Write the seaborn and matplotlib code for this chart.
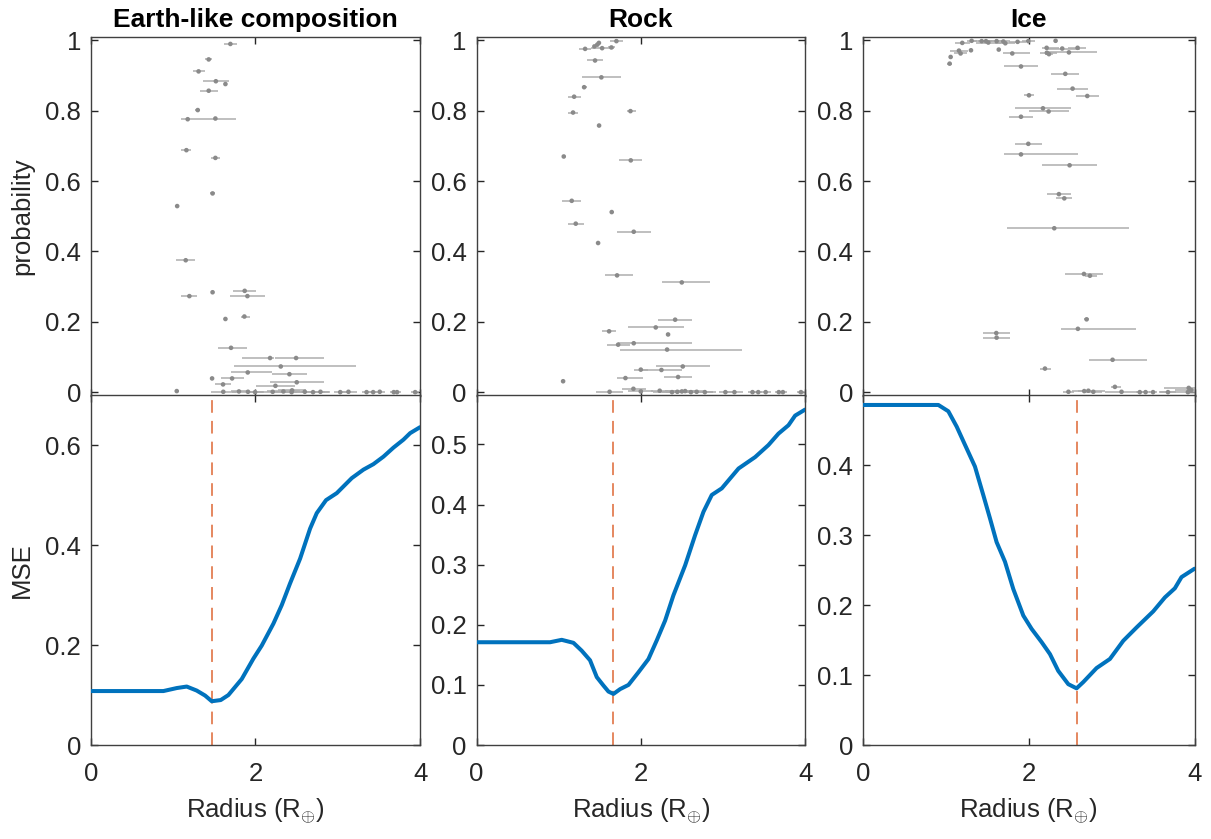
import numpy as np
import pandas as pd
import matplotlib
matplotlib.use("Agg")
import matplotlib.pyplot as plt
from matplotlib.ticker import FuncFormatter
import seaborn as sns

# ---------------- data ----------------
titles = ["Earth-like composition", "Rock", "Ice"]

# Earth-like: radius, probability, x-error low/high
earth_r = [1.696, 1.433, 1.31, 1.52, 1.636, 1.433, 1.30, 1.178, 1.514, 1.162, 1.514, 1.48, 1.05,
           1.154, 1.198, 1.48, 1.87, 1.903, 1.866, 1.636, 1.704, 2.178, 2.494, 2.308, 1.907, 2.413,
           1.474, 1.717, 2.502, 1.607, 2.243, 1.045, 2.445,
           1.61, 1.80, 1.91, 1.996, 2.21, 2.34, 2.44, 2.60, 2.70, 2.79, 3.03, 3.13, 3.35, 3.43,
           3.51, 3.68, 3.72, 3.94]
earth_p = [0.990, 0.946, 0.912, 0.884, 0.876, 0.857, 0.802, 0.776, 0.778, 0.688, 0.666, 0.565, 0.529,
           0.375, 0.273, 0.284, 0.288, 0.273, 0.215, 0.208, 0.126, 0.097, 0.097, 0.073, 0.056, 0.051,
           0.039, 0.039, 0.028, 0.022, 0.018, 0.003, 0.005,
           0.001, 0.002, 0.001, 0.0, 0.001, 0.002, 0.0, 0.001, 0.0, 0.001, 0.0, 0.001, 0.0, 0.0,
           0.001, 0.0, 0.0, 0.0]
earth_lo = [0.08, 0.04, 0.073, 0.16, 0.01, 0.10, 0.03, 0.085, 0.25, 0.07, 0.057, 0.03, 0.0,
            0.117, 0.097, 0.01, 0.14, 0.21, 0.04, 0.0, 0.155, 0.34, 0.25, 0.567, 0.2, 0.21,
            0.02, 0.14, 0.33, 0.095, 0.24, 0.02, 0.17,
            0.15, 0.1, 0.2, 0.1, 0.3, 0.2, 0.25, 0.3, 0.15, 0.1, 0.08, 0.1, 0.05, 0.05,
            0.06, 0.05, 0.05, 0.05]
earth_hi = [0.08, 0.04, 0.073, 0.16, 0.01, 0.11, 0.03, 0.085, 0.245, 0.05, 0.057, 0.03, 0.0,
            0.117, 0.097, 0.01, 0.14, 0.21, 0.07, 0.0, 0.19, 0.05, 0.34, 0.91, 0.3, 0.21,
            0.02, 0.14, 0.33, 0.095, 0.24, 0.02, 0.17,
            0.15, 0.1, 0.2, 0.1, 0.3, 0.2, 0.25, 0.3, 0.15, 0.1, 0.08, 0.1, 0.05, 0.05,
            0.06, 0.05, 0.05, 0.05]

rock_r = [1.703, 1.49, 1.47, 1.435, 1.322, 1.529, 1.642, 1.443, 1.52, 1.31, 1.188, 1.175, 1.874,
          1.492, 1.062, 1.878, 1.159, 1.646, 1.208, 1.914, 1.48, 1.711, 2.499, 2.418, 2.182, 1.614,
          2.332, 1.914, 1.724, 2.32, 2.511, 2.0, 2.251, 1.813, 2.454, 1.054, 1.91,
          1.62, 2.0, 2.23, 2.38, 2.445, 2.50, 2.54, 2.61, 2.68, 2.78, 3.03, 3.14, 3.36, 3.43,
          3.52, 3.68, 3.73, 3.95]
rock_p = [0.998, 0.993, 0.988, 0.983, 0.976, 0.978, 0.980, 0.943, 0.895, 0.867, 0.840, 0.795, 0.799,
          0.758, 0.670, 0.659, 0.544, 0.512, 0.479, 0.456, 0.424, 0.332, 0.312, 0.206, 0.184, 0.173,
          0.164, 0.139, 0.135, 0.121, 0.073, 0.064, 0.063, 0.040, 0.043, 0.031, 0.0095,
          0.001, 0.002, 0.004, 0.0, 0.001, 0.002, 0.003, 0.0, 0.001, 0.0, 0.0, 0.0, 0.0, 0.0,
          0.0, 0.0, 0.0, 0.0]
rock_lo = [0.077, 0.01, 0.01, 0.01, 0.07, 0.14, 0.045, 0.10, 0.24, 0.03, 0.08, 0.06, 0.04,
           0.0, 0.0, 0.14, 0.118, 0.0, 0.097, 0.207, 0.0, 0.15, 0.24, 0.21, 0.34, 0.09,
           0.02, 0.187, 0.14, 0.57, 0.33, 0.083, 0.25, 0.10, 0.175, 0.0, 0.14,
           0.16, 0.15, 0.1, 0.12, 0.3, 0.2, 0.25, 0.3, 0.2, 0.1, 0.08, 0.1, 0.05, 0.05,
           0.06, 0.05, 0.05, 0.05]
rock_hi = [0.077, 0.01, 0.01, 0.01, 0.07, 0.14, 0.045, 0.10, 0.24, 0.03, 0.08, 0.06, 0.07,
           0.0, 0.0, 0.14, 0.118, 0.0, 0.097, 0.207, 0.0, 0.19, 0.34, 0.21, 0.34, 0.09,
           0.02, 0.707, 0.14, 0.91, 0.33, 0.083, 0.25, 0.21, 0.175, 0.0, 0.15,
           0.16, 0.15, 0.1, 0.12, 0.3, 0.2, 0.25, 0.3, 0.2, 0.1, 0.08, 0.1, 0.05, 0.05,
           0.06, 0.05, 0.05, 0.05]

ice_r = [1.20, 1.313, 1.434, 1.486, 1.514, 1.614, 1.695, 1.719, 1.867, 1.996, 2.325,
         1.16, 1.18, 1.305, 1.64, 1.803, 2.217, 2.405, 2.59, 2.22, 2.245, 2.486, 1.06, 1.048,
         1.908, 2.442, 2.53, 2.004, 2.707, 2.173, 2.241, 1.908, 1.996, 1.908, 2.494, 2.365,
         2.43, 2.309, 2.667, 2.739, 2.699, 2.594, 1.61, 1.614, 3.012, 2.197, 3.04,
         2.48, 2.67, 2.72, 2.78, 3.12, 3.34, 3.41, 3.50, 3.68, 3.92, 3.93, 3.96]
ice_p = [0.993, 0.999, 0.998, 0.998, 0.994, 0.998, 0.997, 0.992, 0.996, 0.998, 0.999,
         0.971, 0.963, 0.972, 0.974, 0.963, 0.979, 0.977, 0.979, 0.965, 0.961, 0.966, 0.953, 0.934,
         0.926, 0.905, 0.863, 0.844, 0.842, 0.807, 0.798, 0.783, 0.706, 0.676, 0.645, 0.563,
         0.551, 0.466, 0.336, 0.331, 0.207, 0.180, 0.168, 0.155, 0.092, 0.067, 0.015,
         0.001, 0.003, 0.004, 0.001, 0.001, 0.0, 0.0, 0.0, 0.0, 0.0, 0.012, 0.006]
ice_lo = [0.09, 0.06, 0.12, 0.1, 0.15, 0.1, 0.08, 0.12, 0.1, 0.08, 0.01,
          0.11, 0.08, 0.01, 0.0, 0.11, 0.05, 0.19, 0.11, 0.08, 0.05, 0.29, 0.0, 0.03,
          0.21, 0.17, 0.185, 0.06, 0.14, 0.34, 0.24, 0.15, 0.16, 0.21, 0.33, 0.14,
          0.094, 0.566, 0.23, 0.06, 0.03, 0.205, 0.16, 0.16, 0.29, 0.06, 0.05,
          0.07, 0.08, 0.2, 0.1, 0.2, 0.05, 0.05, 0.05, 0.1, 0.35, 0.3, 0.2]
ice_hi = [0.09, 0.06, 0.12, 0.1, 0.15, 0.1, 0.08, 0.12, 0.1, 0.08, 0.01,
          0.11, 0.08, 0.01, 0.0, 0.21, 0.15, 0.21, 0.10, 0.12, 0.05, 0.34, 0.0, 0.03,
          0.21, 0.17, 0.185, 0.06, 0.14, 0.34, 0.24, 0.15, 0.16, 0.69, 0.33, 0.14,
          0.094, 0.896, 0.23, 0.08, 0.03, 0.703, 0.16, 0.16, 0.41, 0.07, 0.07,
          0.07, 0.08, 0.2, 0.1, 0.2, 0.05, 0.05, 0.05, 0.1, 0.35, 0.3, 0.2]

# MSE curves
earth_curve_r = [0.0, 0.883, 1.045, 1.166, 1.287, 1.389, 1.47, 1.579, 1.672, 1.834, 1.976, 2.077,
                 2.219, 2.32, 2.42, 2.543, 2.664, 2.745, 2.858, 2.988, 3.17, 3.312, 3.433, 3.555,
                 3.676, 3.798, 3.879, 4.0]
earth_curve_mse = [0.108, 0.108, 0.114, 0.117, 0.109, 0.099, 0.0876, 0.090, 0.100, 0.132, 0.173,
                   0.199, 0.243, 0.280, 0.323, 0.373, 0.433, 0.464, 0.490, 0.504, 0.534, 0.551,
                   0.562, 0.577, 0.595, 0.611, 0.624, 0.636]
rock_curve_r = [0.0, 0.895, 1.037, 1.18, 1.28, 1.382, 1.464, 1.545, 1.606, 1.667, 1.748, 1.85,
                1.971, 2.093, 2.194, 2.296, 2.397, 2.54, 2.661, 2.763, 2.864, 2.986, 3.19, 3.392,
                3.554, 3.676, 3.798, 3.879, 4.0]
rock_curve_mse = [0.171, 0.171, 0.175, 0.170, 0.157, 0.141, 0.113, 0.099, 0.089, 0.085, 0.093,
                  0.100, 0.121, 0.143, 0.174, 0.207, 0.249, 0.299, 0.349, 0.388, 0.416, 0.427,
                  0.460, 0.479, 0.499, 0.518, 0.532, 0.548, 0.558]
ice_curve_r = [0.0, 0.912, 1.032, 1.133, 1.233, 1.353, 1.454, 1.534, 1.614, 1.715, 1.815, 1.936,
               2.036, 2.157, 2.257, 2.357, 2.478, 2.578, 2.659, 2.819, 2.98, 3.141, 3.301, 3.502,
               3.643, 3.763, 3.843, 4.0]
ice_curve_mse = [0.486, 0.486, 0.477, 0.455, 0.429, 0.398, 0.357, 0.324, 0.290, 0.262, 0.223,
                 0.185, 0.166, 0.147, 0.130, 0.106, 0.087, 0.081, 0.090, 0.110, 0.123, 0.149,
                 0.168, 0.191, 0.211, 0.224, 0.240, 0.252]

best_radius = [1.47, 1.667, 2.578]
mse_ylim = [0.70, 0.582, 0.50]
mse_ticks = [[0, 0.2, 0.4, 0.6], [0, 0.1, 0.2, 0.3, 0.4, 0.5], [0, 0.1, 0.2, 0.3, 0.4]]
prob_ticks = [0, 0.2, 0.4, 0.6, 0.8, 1]
x_ticks = [0, 2, 4]

# ---------------- plot ----------------
sns.set_style("white")
plt.rcParams["font.family"] = ["Liberation Sans", "DejaVu Sans"]
plt.rcParams["mathtext.fontset"] = "custom"
plt.rcParams["mathtext.rm"] = "Liberation Sans"

fig = plt.figure(figsize=(12.11, 8.39), dpi=100)

lefts = [0.0749, 0.3935, 0.7124]
widths = [0.2720, 0.2713, 0.2740]
top_b, top_h = 0.528, 0.428
bot_b, bot_h = 0.112, 0.417

scatter_sets = [(earth_r, earth_p, earth_lo, earth_hi),
                (rock_r, rock_p, rock_lo, rock_hi),
                (ice_r, ice_p, ice_lo, ice_hi)]
curve_sets = [(earth_curve_r, earth_curve_mse), (rock_curve_r, rock_curve_mse),
              (ice_curve_r, ice_curve_mse)]

fmt = FuncFormatter(lambda v, p: f"{v:g}")
axis_col = "#404040"
FS = 18.5


def style_axes(ax):
    for s in ax.spines.values():
        s.set_color(axis_col)
        s.set_linewidth(1.0)
        s.set_visible(True)
    ax.tick_params(direction="in", length=5, width=1.0, colors="#262626",
                   top=True, right=True, bottom=True, left=True, labelsize=FS)
    ax.tick_params(axis="y", pad=7)
    ax.tick_params(axis="x", pad=12)


for i in range(3):
    r, p, lo, hi = scatter_sets[i]
    df = pd.DataFrame({"r": r, "p": p, "lo": lo, "hi": hi})
    axt = fig.add_axes([lefts[i], top_b, widths[i], top_h])
    axt.errorbar(df["r"], df["p"], xerr=[df["lo"], df["hi"]], fmt="none",
                 ecolor="#adadad", elinewidth=1.1, capsize=0, zorder=2)
    sns.scatterplot(data=df, x="r", y="p", ax=axt, color="#8a8a8a", s=11,
                    edgecolor="none", zorder=3, legend=False)
    axt.set_xlim(0, 4)
    axt.set_ylim(-0.011, 1.01)
    axt.set_xticks(x_ticks)
    axt.set_xticklabels([])
    axt.set_yticks(prob_ticks)
    axt.yaxis.set_major_formatter(fmt)
    axt.set_xlabel("")
    axt.set_ylabel("probability" if i == 0 else "", fontsize=FS, labelpad=8, color="#262626")
    axt.set_title(titles[i], fontsize=19, fontweight="bold", pad=7, color="black")
    style_axes(axt)

    cr, cm = curve_sets[i]
    dfc = pd.DataFrame({"r": cr, "mse": cm})
    axb = fig.add_axes([lefts[i], bot_b, widths[i], bot_h])
    axb.axvline(best_radius[i], color="#D95319", alpha=0.75, lw=1.3,
                dashes=(7, 4.5), zorder=2)
    sns.lineplot(data=dfc, x="r", y="mse", ax=axb, color="#0072BD", lw=2.9,
                 zorder=3, legend=False)
    axb.set_xlim(0, 4)
    axb.set_ylim(0, mse_ylim[i])
    axb.set_xticks(x_ticks)
    axb.xaxis.set_major_formatter(fmt)
    axb.set_yticks(mse_ticks[i])
    axb.yaxis.set_major_formatter(fmt)
    axb.set_xlabel("Radius (R$_{\\oplus}$)", fontsize=FS, labelpad=8, color="#262626")
    axb.set_ylabel("MSE" if i == 0 else "", fontsize=FS, labelpad=8, color="#262626")
    style_axes(axb)

fig.savefig("out.png", dpi=100)
